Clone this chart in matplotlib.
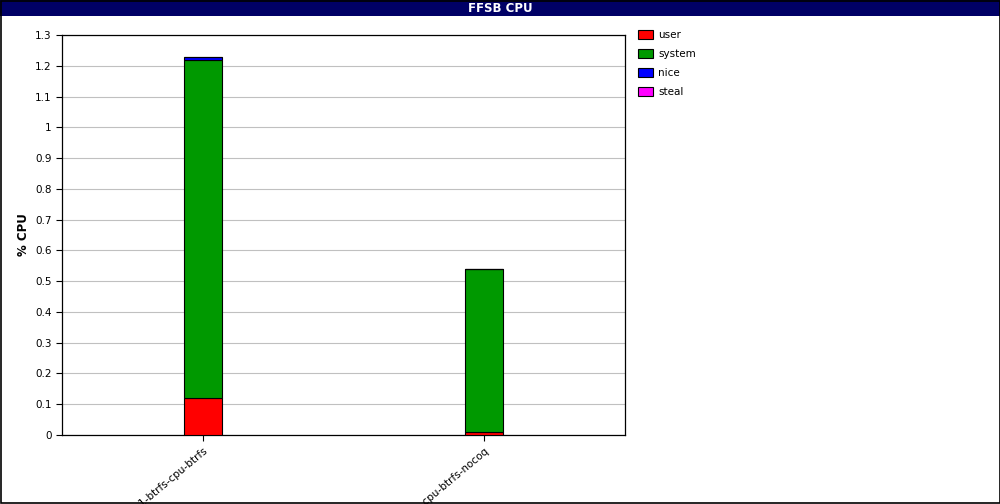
import matplotlib
matplotlib.use('Agg')
import matplotlib.pyplot as plt
from matplotlib.patches import Rectangle
import numpy as np

# values
runs = ['kern1-btrfs-cpu-btrfs', 'kern1-btrfs-cpu-btrfs-nocoq']
user = [0.12, 0.01]
system = [1.10, 0.53]
nice = [0.01, 0.0]
steal = [0.0, 0.0]

series = [('user', user, '#ff0000'),
          ('system', system, '#009900'),
          ('nice', nice, '#0000ff'),
          ('steal', steal, '#ff00ff')]

W, H = 1000, 504
fig = plt.figure(figsize=(W / 100, H / 100), dpi=100)
fig.patch.set_facecolor('white')

# title bar
fig.patches.append(Rectangle((0, 1 - 16 / H), 1, 16 / H, transform=fig.transFigure,
                             facecolor='#000066', edgecolor='none', zorder=0))
fig.patches.append(Rectangle((0.0005, 0.001), 0.999, 0.998, transform=fig.transFigure,
                             facecolor='none', edgecolor='black', linewidth=1.2, zorder=5))
fig.text(0.5, 1 - 8.5 / H, 'FFSB CPU', color='white', fontsize=8.5, fontweight='bold',
         ha='center', va='center')

ax = fig.add_axes([62 / W, 1 - 435 / H, (625 - 62) / W, (435 - 35) / H])
x = np.arange(len(runs))
bottom = np.zeros(len(runs))
for name, vals, col in series:
    ax.bar(x, vals, width=0.135, bottom=bottom, color=col, edgecolor='black',
           linewidth=0.8, label=name, zorder=3)
    bottom += np.array(vals)

ax.set_xlim(-0.5, 1.5)
ax.set_ylim(0, 1.3)
yt = np.round(np.arange(0, 1.31, 0.1), 1)
ax.set_yticks(yt)
ax.set_yticklabels([('%g' % v) for v in yt], fontsize=7.5)
ax.yaxis.grid(True, color='#c0c0c0', linewidth=0.8, zorder=0)
ax.set_axisbelow(True)
ax.set_xticks(x)
ax.set_xticklabels(runs, rotation=40, ha='right', rotation_mode='anchor', fontsize=7.5)
ax.tick_params(axis='both', length=4, width=0.8)
for s in ax.spines.values():
    s.set_linewidth(0.9)
ax.set_ylabel('% CPU', fontsize=8.5, fontweight='bold')
ax.yaxis.set_label_coords(-32 / 563, 0.5)

leg = fig.legend(loc='upper left', bbox_to_anchor=(629 / W, 1 - 21 / H), frameon=False,
                 fontsize=7.5, handlelength=1.4, handleheight=0.9, labelspacing=0.85,
                 handletextpad=0.5)

fig.savefig('out.png', dpi=100)
